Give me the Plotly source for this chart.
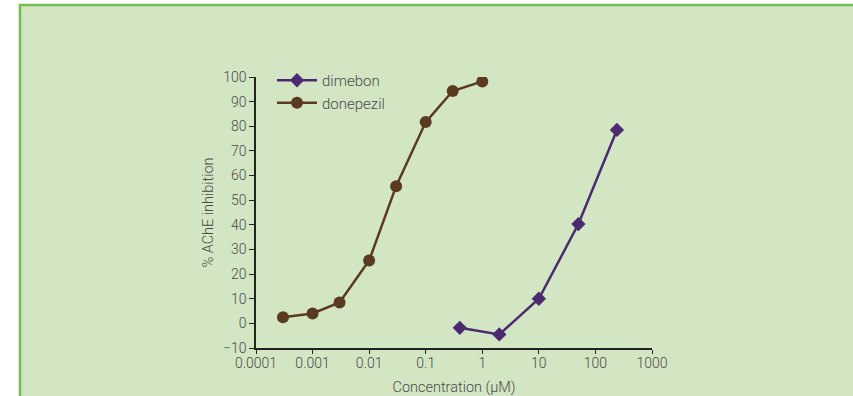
import plotly.graph_objects as go

# Data
donepezil_conc = [0.0003, 0.001, 0.003, 0.01, 0.03, 0.1, 0.3, 1]
donepezil_inh = [2.5, 4.0, 8.5, 25.5, 55.7, 81.7, 94.3, 98.2]
dimebon_conc = [0.4, 2, 10, 50, 240]
dimebon_inh = [-1.8, -4.5, 10.0, 40.3, 78.5]
x_tickvals = [0.0001, 0.001, 0.01, 0.1, 1, 10, 100, 1000]
x_ticktext = ["0.0001", "0.001", "0.01", "0.1", "1", "10", "100", "1000"]

W, H = 853, 396
L, R, T, B = 256, 652, 77, 348  # plot area pixel bounds
pw, ph = R - L, B - T

def px_x(p):
    return (p - L) / pw

def px_y(p):
    return (B - p) / ph

fig = go.Figure()
fig.add_trace(go.Scatter(
    x=dimebon_conc, y=dimebon_inh, name="dimebon", mode="lines+markers",
    line=dict(color="#4b2a6f", width=2.5),
    marker=dict(symbol="diamond", size=11, color="#4b2a6f"),
))
fig.add_trace(go.Scatter(
    x=donepezil_conc, y=donepezil_inh, name="donepezil", mode="lines+markers",
    line=dict(color="#5a3a20", width=2.5),
    marker=dict(symbol="circle", size=12, color="#5a3a20"),
))

txt = "#4a4a4a"
fam = "Roboto, Open Sans, sans-serif"
axis_font = dict(family=fam, size=14, color=txt, weight=300)
fig.update_layout(
    width=W, height=H,
    margin=dict(l=L, r=W - R, t=T, b=H - B, autoexpand=False),
    paper_bgcolor="white",
    plot_bgcolor="rgba(0,0,0,0)",
    font=axis_font,
    showlegend=True,
    legend=dict(x=px_x(272), y=px_y(64), xanchor="left", yanchor="top",
                bgcolor="rgba(0,0,0,0)", font=dict(family=fam, size=15, color=txt, weight=300),
                tracegroupgap=0, itemwidth=40),
    xaxis=dict(type="log", range=[-4, 3], tickvals=x_tickvals, ticktext=x_ticktext,
               showgrid=False, zeroline=False, showline=True, linecolor="#222",
               linewidth=1.5, ticks="outside", ticklen=4, tickcolor="#222",
               tickfont=axis_font, automargin=False, ticklabelstandoff=-3,
               title=dict(text="Concentration (μM)",
                          font=dict(family=fam, size=14.5, color=txt, weight=300), standoff=14)),
    yaxis=dict(range=[-10, 100], dtick=10, showgrid=False, zeroline=False,
               showline=True, linecolor="#222", linewidth=1.5, ticks="outside",
               ticklen=5, tickcolor="#222", tickfont=axis_font, automargin=False,
               title=dict(text="% AChE inhibition",
                          font=dict(family=fam, size=14.5, color=txt, weight=300), standoff=6)),
    shapes=[dict(type="rect", xref="paper", yref="paper",
                 x0=px_x(20), x1=px_x(W + 20), y0=px_y(H + 20), y1=px_y(5),
                 fillcolor="#d3e6c3", line=dict(color="#72bf4f", width=2.5),
                 layer="below")],
)

fig.write_html("out.html", config={"displayModeBar": False})
with open("out.html", encoding="utf-8") as f:
    html = f.read()
html = html.replace("<head>", "<head><style>html,body{margin:0;padding:0;overflow:hidden;}</style>", 1)
with open("out.html", "w", encoding="utf-8") as f:
    f.write(html)
